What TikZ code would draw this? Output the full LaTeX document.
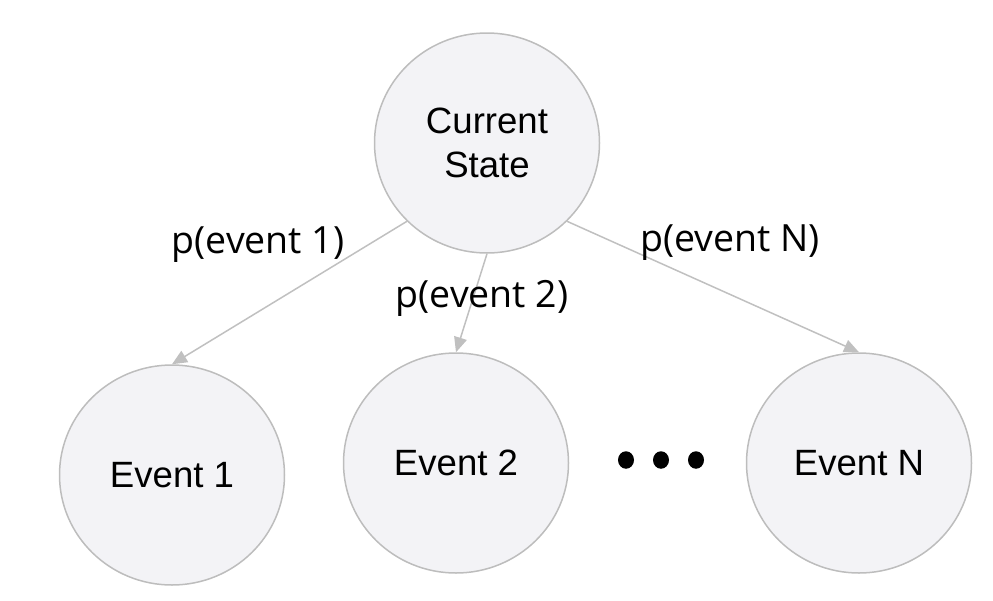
\documentclass[tikz,border=0pt]{standalone}
\usepackage{fontspec}
\setmainfont{Liberation Sans}
\newfontfamily\labelfont{Open Sans}
\usetikzlibrary{shapes.geometric,arrows.meta}
\definecolor{nodefill}{HTML}{F3F3F6}
\definecolor{nodeline}{HTML}{BDBDBD}
\definecolor{arrowcol}{HTML}{C0C0C0}
\begin{document}
\begin{tikzpicture}[x=1pt,y=-1pt,
  state/.style={ellipse,draw=nodeline,fill=nodefill,line width=1.5pt,inner sep=0pt,
    minimum height=220pt,minimum width=225pt,align=center,font=\fontsize{36.6}{43.5}\selectfont},
  edge/.style={draw=arrowcol,line width=1.5pt,-{Triangle[length=15pt,width=13pt]}},
  plabel/.style={font=\labelfont\fontsize{37.5}{44}\selectfont,inner sep=0pt},
  dot/.style={ellipse,fill=black,inner sep=0pt,minimum width=16pt,minimum height=17.5pt}]
\useasboundingbox (0,0) rectangle (993,600);
\node[state] (cs) at (487,143) {Current\\State};
\node[state] (e1) at (172,475) {Event 1};
\node[state] (e2) at (456,463) {Event 2};
\node[state] (en) at (859,463) {Event N};
\node[dot] (d1) at (626,460) {};
\node[dot] (d2) at (661,460) {};
\node[dot] (d3) at (696,460) {};
\draw[edge] (cs.south west) -- (e1.north);
\draw[edge] (cs.south) -- (e2.north);
\draw[edge] (cs.south east) -- (en.north);
\node[plabel] (l1) at (258,245) {p(event 1)};
\node[plabel] (l2) at (482,298) {p(event 2)};
\node[plabel] (ln) at (730,243) {p(event N)};
\end{tikzpicture}
\end{document}
